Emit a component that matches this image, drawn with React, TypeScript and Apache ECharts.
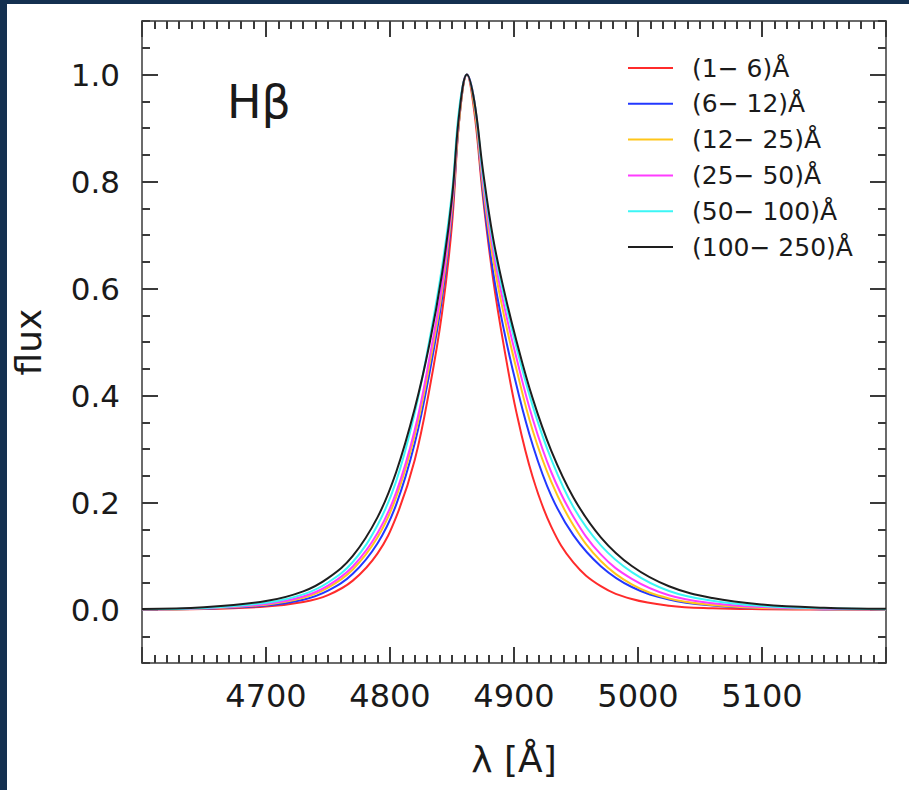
import React, { useEffect, useRef } from "react";
import * as echarts from "echarts";

// wavelength grid (Å)
const lambda = [
  4600, 4650, 4700, 4730, 4750, 4770, 4790, 4805, 4820, 4832, 4842, 4850, 4856, 4862,
  4868, 4875, 4883, 4892, 4902, 4915, 4930, 4948, 4970, 4995, 5025, 5060, 5100, 5150, 5200,
];

const seriesNames = ["(1− 6)Å", "(6− 12)Å", "(12− 25)Å", "(25− 50)Å", "(50− 100)Å", "(100− 250)Å"];
const seriesColors = ["#ff2b2b", "#2238ff", "#ffc61a", "#ff3cff", "#3cf6f6", "#1e1e1e"];

const flux1to6 = [
  0.0002, 0.001, 0.0054, 0.0141, 0.027, 0.054, 0.105, 0.173, 0.28, 0.414, 0.555, 0.72, 0.92, 1.0,
  0.93, 0.77, 0.62, 0.49, 0.368, 0.248, 0.155, 0.0875, 0.0437, 0.0196, 0.0072, 0.0023, 0.0006, 0.0001, 0.0,
];
const flux6to12 = [
  0.0003, 0.0015, 0.0074, 0.0183, 0.0353, 0.0668, 0.124, 0.196, 0.311, 0.444, 0.582, 0.74, 0.92, 1.0,
  0.94, 0.78, 0.633, 0.521, 0.419, 0.308, 0.213, 0.1385, 0.081, 0.0421, 0.0188, 0.0075, 0.0026, 0.0007, 0.0002,
];
const flux12to25 = [
  0.0004, 0.002, 0.0091, 0.0218, 0.0408, 0.0749, 0.135, 0.21, 0.326, 0.459, 0.595, 0.75, 0.92, 1.0,
  0.94, 0.79, 0.657, 0.549, 0.449, 0.335, 0.239, 0.157, 0.0907, 0.047, 0.0206, 0.0085, 0.003, 0.0008, 0.0002,
];
const flux25to50 = [
  0.0005, 0.0023, 0.0104, 0.0243, 0.0446, 0.0804, 0.143, 0.219, 0.336, 0.472, 0.607, 0.76, 0.93, 1.0,
  0.95, 0.8, 0.673, 0.568, 0.47, 0.357, 0.257, 0.173, 0.103, 0.0573, 0.0267, 0.0117, 0.0045, 0.0013, 0.0004,
];
const flux50to100 = [
  0.0006, 0.0028, 0.0125, 0.0282, 0.0505, 0.0888, 0.158, 0.24, 0.368, 0.506, 0.641, 0.78, 0.94, 1.0,
  0.95, 0.81, 0.687, 0.585, 0.49, 0.381, 0.281, 0.191, 0.12, 0.07, 0.0347, 0.0162, 0.0067, 0.0022, 0.0007,
];
const flux100to250 = [
  0.001, 0.0041, 0.0157, 0.0339, 0.0587, 0.1003, 0.1727, 0.257, 0.376, 0.498, 0.628, 0.77, 0.93, 1.0,
  0.95, 0.82, 0.696, 0.596, 0.502, 0.395, 0.297, 0.209, 0.135, 0.0813, 0.0435, 0.0214, 0.0094, 0.0033, 0.0012,
];
const allFlux = [flux1to6, flux6to12, flux12to25, flux25to50, flux50to100, flux100to250];

const xMajorTicks = [4600, 4700, 4800, 4900, 5000, 5100, 5200];
const xTickLabels = [4700, 4800, 4900, 5000, 5100];
const yMajorTicks = [0, 0.2, 0.4, 0.6, 0.8, 1.0];
const yTickLabels = [0, 0.2, 0.4, 0.6, 0.8, 1.0];

const FONT = "DejaVu Sans";
const AXIS_COLOR = "#3a3a3a";
const TEXT_COLOR = "#1a1a1a";

export default function App() {
  const ref = useRef<HTMLDivElement>(null);

  useEffect(() => {
    const chart = echarts.init(ref.current!, null, { renderer: "svg" });
    const gridRect = { left: 142, right: 23, top: 21, bottom: 127 };
    const lineStyle = { color: AXIS_COLOR, width: 1.5 };
    const tickStyle = { color: AXIS_COLOR, width: 2 };

    const majorX = (position: string, withLabels: boolean) => ({
      type: "value",
      gridIndex: 0,
      position,
      min: 4600,
      max: 5200,
      axisLine: { show: true, onZero: false, lineStyle },
      axisTick: { show: true, inside: true, length: 16, customValues: xMajorTicks, lineStyle: tickStyle },
      axisLabel: withLabels
        ? {
            show: true,
            customValues: xTickLabels,
            fontSize: 32,
            fontFamily: FONT,
            color: TEXT_COLOR,
            margin: 17,
            formatter: (v: number) => String(v),
          }
        : { show: false },
      splitLine: { show: false },
      ...(withLabels
        ? {
            name: "λ [Å]",
            nameLocation: "middle",
            nameGap: 78,
            nameTextStyle: { fontSize: 36, fontFamily: FONT, color: TEXT_COLOR },
          }
        : {}),
    });
    const minorX = (position: string) => ({
      type: "value",
      gridIndex: 1,
      position,
      min: 4600,
      max: 5200,
      interval: 10,
      axisLine: { show: false, onZero: false },
      axisTick: { show: true, inside: true, length: 8, lineStyle: tickStyle },
      axisLabel: { show: false },
      splitLine: { show: false },
    });
    const majorY = (position: string, withLabels: boolean) => ({
      type: "value",
      gridIndex: 0,
      position,
      min: -0.1,
      max: 1.1,
      axisLine: { show: true, onZero: false, lineStyle },
      axisTick: { show: true, inside: true, length: 16, customValues: yMajorTicks, lineStyle: tickStyle },
      axisLabel: withLabels
        ? {
            show: true,
            customValues: yTickLabels,
            fontSize: 31,
            fontFamily: FONT,
            color: TEXT_COLOR,
            margin: 22,
            formatter: (v: number) => v.toFixed(1),
          }
        : { show: false },
      splitLine: { show: false },
      ...(withLabels
        ? {
            name: "flux",
            nameLocation: "middle",
            nameGap: 96,
            nameRotate: 90,
            nameTextStyle: { fontSize: 36, fontFamily: FONT, color: TEXT_COLOR },
          }
        : {}),
    });
    const minorY = (position: string) => ({
      type: "value",
      gridIndex: 1,
      position,
      min: -0.1,
      max: 1.1,
      interval: 0.05,
      axisLine: { show: false, onZero: false },
      axisTick: { show: true, inside: true, length: 8, lineStyle: tickStyle },
      axisLabel: { show: false },
      splitLine: { show: false },
    });

    const option: any = {
      animation: false,
      backgroundColor: "#ffffff",
      grid: [
        { ...gridRect },
        { ...gridRect },
      ],
      xAxis: [majorX("bottom", true), majorX("top", false), minorX("bottom"), minorX("top")],
      yAxis: [majorY("left", true), majorY("right", false), minorY("left"), minorY("right")],
      legend: {
        orient: "vertical",
        left: 623,
        top: 50,
        icon: "rect",
        itemWidth: 45,
        itemHeight: 2,
        itemGap: 9.8,
        selectedMode: false,
        data: seriesNames,
        textStyle: {
          fontSize: 25,
          lineHeight: 26,
          fontFamily: FONT,
          color: TEXT_COLOR,
          padding: [0, 0, 0, 14],
        },
      },
      graphic: [
        { type: "rect", z: 100, shape: { x: 0, y: 0, width: 909, height: 4 }, style: { fill: "#143050" } },
        { type: "rect", z: 100, shape: { x: 0, y: 0, width: 7, height: 790 }, style: { fill: "#143050" } },
        {
          type: "text",
          x: 227,
          y: 102,
          style: {
            text: "Hβ",
            font: `46px "${FONT}"`,
            fill: TEXT_COLOR,
            verticalAlign: "middle",
            align: "left",
          },
        },
      ],
      series: seriesNames.map((name, i) => ({
        name,
        type: "line",
        xAxisIndex: 0,
        yAxisIndex: 0,
        data: lambda.map((x, k) => [x, allFlux[i][k]]),
        showSymbol: false,
        symbol: "none",
        smooth: 0.4,
        lineStyle: { color: seriesColors[i], width: 2 },
        itemStyle: { color: seriesColors[i] },
        z: 2 + i,
      })),
    };

    chart.setOption(option);
    return () => chart.dispose();
  }, []);

  return (
    <div
      ref={ref}
      style={{ position: "absolute", left: 0, top: 0, width: 909, height: 790, background: "#ffffff" }}
    />
  );
}
